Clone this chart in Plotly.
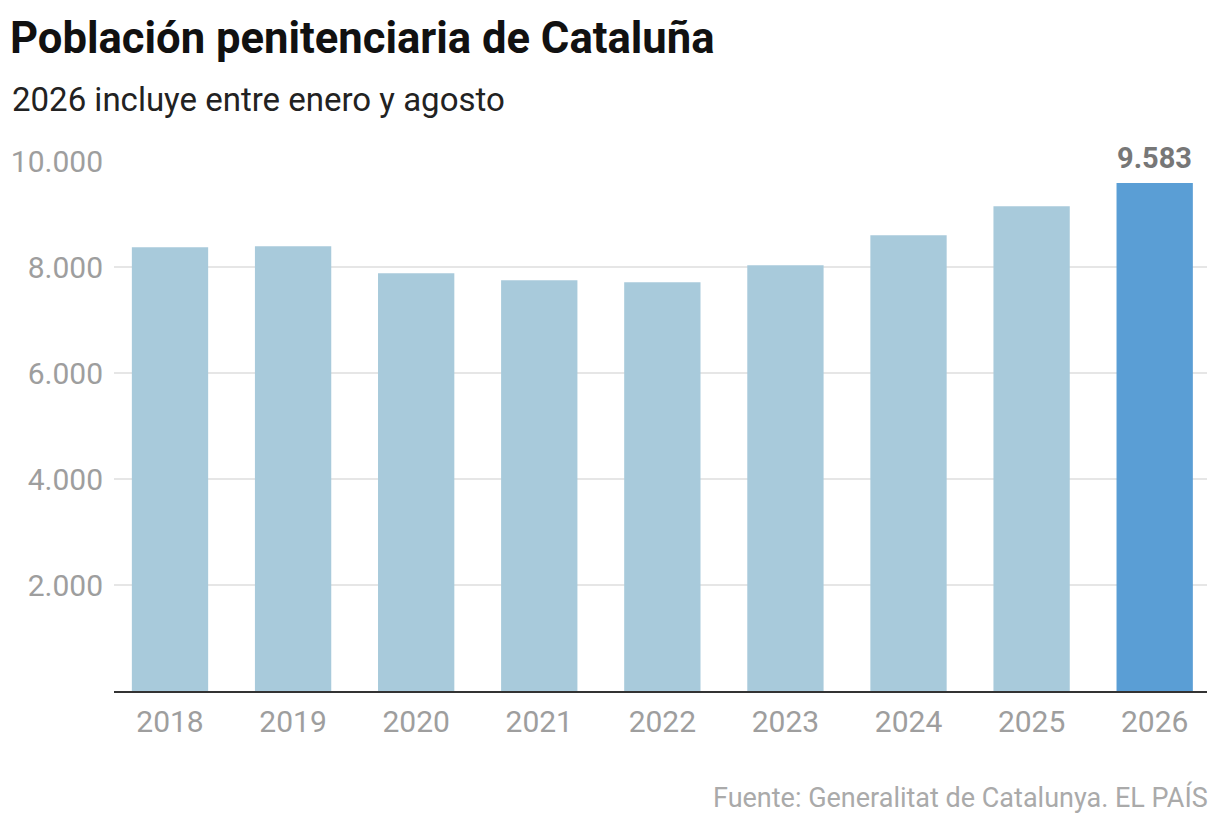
import plotly.graph_objects as go

# datos: población penitenciaria de Cataluña
anios = ["2018", "2019", "2020", "2021", "2022", "2023", "2024", "2025", "2026"]
presos = [8372, 8391, 7881, 7749, 7711, 8032, 8598, 9145, 9583]
y_ticks = [2000, 4000, 6000, 8000, 10000]

color_claro = "#a8cadb"
color_destacado = "#5a9ed5"
gris = "#9e9e9e"
fuente = "Roboto, Liberation Sans, sans-serif"

colores = [color_claro] * (len(anios) - 1) + [color_destacado]

fig = go.Figure(go.Bar(
    x=anios, y=presos,
    marker=dict(color=colores, line=dict(width=0)),
    hoverinfo="x+y",
))

# etiqueta del último año (x por índice de categoría)
ultimo = len(anios) - 1
fig.add_annotation(
    x=ultimo, y=presos[ultimo],
    text="<b>" + f"{presos[ultimo]:,}".replace(",", ".") + "</b>",
    showarrow=False, yanchor="bottom", yshift=6,
    font=dict(family=fuente, size=29, color="#777777"),
    bgcolor="white",
)

fig.update_layout(
    width=1220, height=828,
    paper_bgcolor="white", plot_bgcolor="white",
    separators=",.",
    bargap=0.38,
    showlegend=False,
    margin=dict(l=106, r=21, t=153, b=145),
    title=dict(
        text="<b>Población penitenciaria de Cataluña</b>",
        x=2 / 1220, xanchor="left", xref="container",
        y=1 - 14 / 828, yanchor="top", yref="container",
        font=dict(family=fuente, size=43.6, color="#111111"),
    ),
    font=dict(family=fuente, color=gris),
)

fig.add_annotation(
    text="2026 incluye entre enero y agosto",
    xref="paper", yref="paper",
    x=-104 / 1093, y=1 + 61 / 530, xanchor="left", yanchor="middle",
    showarrow=False, font=dict(family=fuente, size=33, color="#222222"),
)
fig.add_annotation(
    text="Fuente: Generalitat de Catalunya. EL PAÍS",
    xref="paper", yref="paper",
    x=1 + 3 / 1093, y=-106 / 530, xanchor="right", yanchor="middle",
    showarrow=False, font=dict(family=fuente, size=27, color="#aaaaaa"),
)

fig.update_xaxes(
    range=[-0.455, 8.425],
    showgrid=False, zeroline=False,
    showline=True, linecolor="#333333", linewidth=2,
    ticks="", ticklabelstandoff=3,
    tickfont=dict(family=fuente, size=30, color=gris),
    fixedrange=True, automargin=False,
)
fig.update_yaxes(
    range=[0, 10000],
    tickvals=y_ticks, tickformat=",",
    showgrid=True, gridcolor="#e6e6e6", gridwidth=2,
    zeroline=False, showline=False,
    ticks="", ticklabelstandoff=10,
    tickfont=dict(family=fuente, size=30, color=gris),
    fixedrange=True, automargin=False,
)

fig.write_html("out.html")
